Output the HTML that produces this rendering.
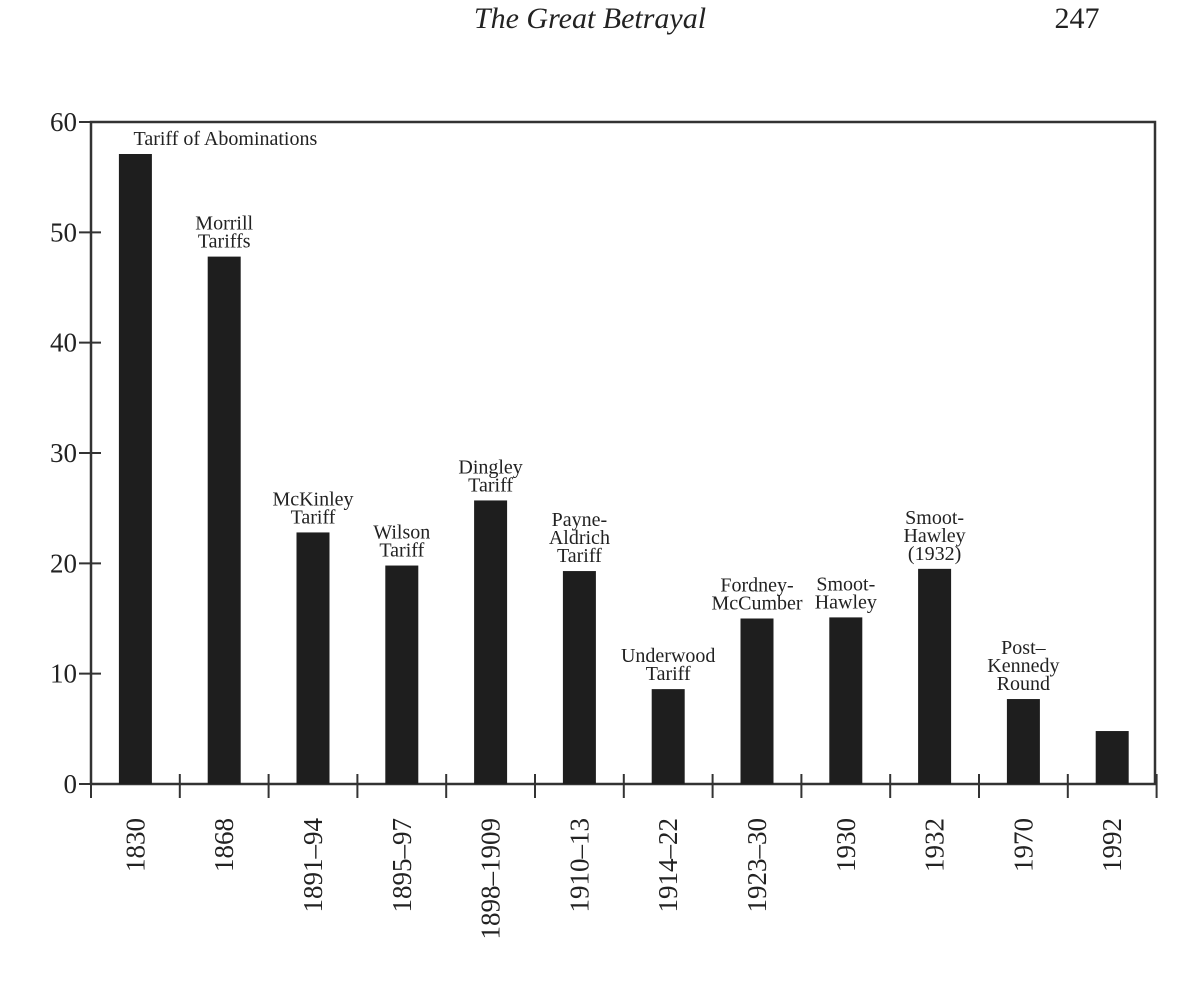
<!DOCTYPE html>
<html><head><meta charset="utf-8"><style>
html,body{margin:0;padding:0;background:#fff;}
svg{display:block;font-family:"Liberation Serif",serif;}
</style></head><body>
<svg width="1199" height="987" viewBox="0 0 1199 987">
<text x="590" y="28" font-size="30" font-style="italic" text-anchor="middle" fill="#222">The Great Betrayal</text>
<text x="1077" y="28" font-size="30" text-anchor="middle" fill="#222">247</text>
<g id="chart"></g>
<text x="623" y="1002" font-size="22" text-anchor="middle" fill="#222">YEAR</text>
</svg>
<script>
const categories=["1830","1868","1891–94","1895–97","1898–1909","1910–13","1914–22","1923–30","1930","1932","1970","1992"];
const values=[57.1,47.8,22.8,19.8,25.7,19.3,8.6,15.0,15.1,19.5,7.7,4.8];
const barLabels=[["Tariff of Abominations"],["Morrill","Tariffs"],["McKinley","Tariff"],["Wilson","Tariff"],["Dingley","Tariff"],["Payne-","Aldrich","Tariff"],["Underwood","Tariff"],["Fordney-","McCumber"],["Smoot-","Hawley"],["Smoot-","Hawley","(1932)"],["Post–","Kennedy","Round"],[]];
const yTicks=[0,10,20,30,40,50,60];
const NS="http://www.w3.org/2000/svg";
const g=document.getElementById('chart');
const x0=91,step=88.8,y0=784,yTop=122,yMax=60,bw=33;
const y=v=>y0-(v/yMax)*(y0-yTop);
const xc=i=>x0+step*(i+0.5);
function mk(t,a){const e=document.createElementNS(NS,t);for(const k in a)e.setAttribute(k,a[k]);g.appendChild(e);return e;}
const frame=mk('path',{d:`M${x0},${y0} L${x0},${yTop} L1155,${yTop} L1155,${y0} L${x0+step*12},${y0} L${x0},${y0}`,fill:'none',stroke:'#333','stroke-width':2.5});


yTicks.forEach(v=>{
 const l=mk('line',{x1:x0-12,x2:x0+10,y1:y(v),y2:y(v),stroke:'#333','stroke-width':2});
 
 
 const t=mk('text',{x:x0-14,y:y(v)+9,'font-size':27,'text-anchor':'end',fill:'#222'});
 t.textContent=v;
 
 
});
for(let i=0;i<=12;i++){
 const l=mk('line',{x1:x0+step*i,x2:x0+step*i,y1:y0-10,y2:y0+14,stroke:'#333','stroke-width':2});
 
 
}
categories.forEach((c,i)=>{
 const r=mk('rect',{x:xc(i)-bw/2,y:y(values[i]),width:bw,height:y0-y(values[i]),fill:'#1e1e1e'});
 
 
 const t=mk('text',{x:0,y:0,'font-size':27,'text-anchor':'end',fill:'#222',transform:`translate(${xc(i)+9},${y0+34}) rotate(-90)`});
 t.textContent=c;
 
 
 const lines=barLabels[i];
 lines.forEach((s,j)=>{
  const lt=mk('text',{x:xc(i)+(i===0?90:0),y:y(values[i])-9-(lines.length-1-j)*18,'font-size':20,'text-anchor':'middle',fill:'#222'});
  lt.textContent=s;
  
  
 });
});
</script>
</body></html>
